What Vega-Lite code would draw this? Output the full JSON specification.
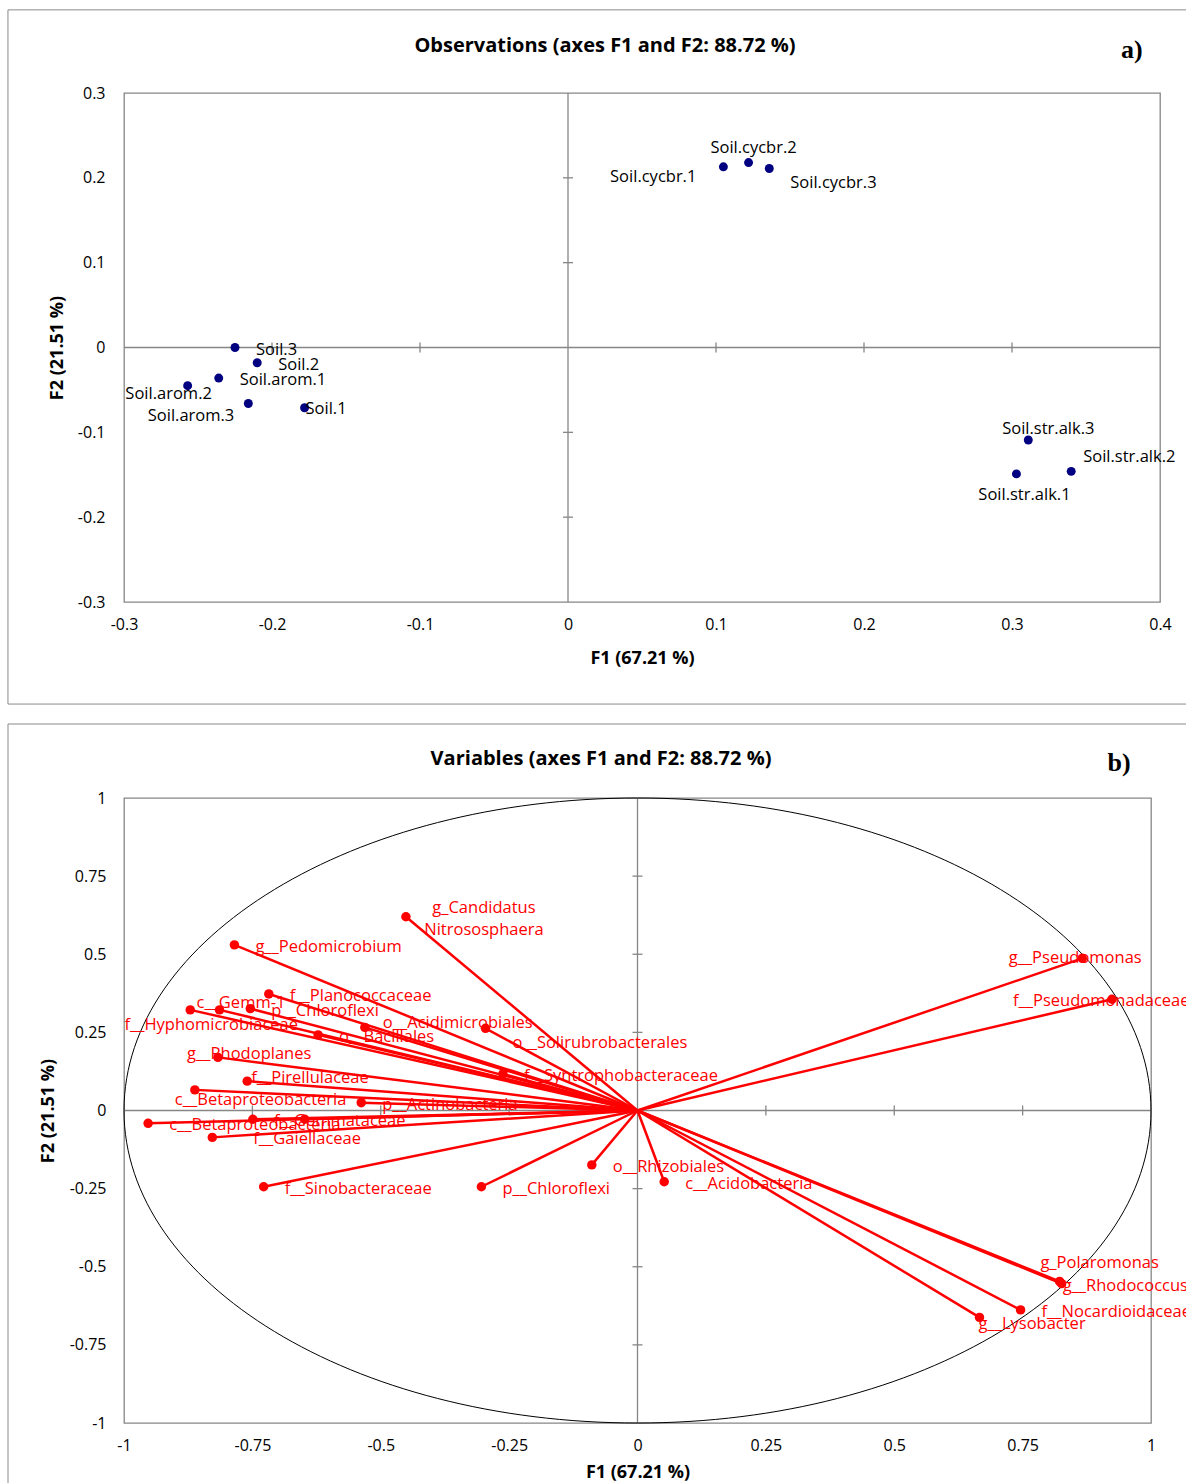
{
  "$schema": "https://vega.github.io/schema/vega-lite/v6.json",
  "padding": {"left": 6, "top": 8, "right": 0, "bottom": 0},
  "background": "white",
  "columns": 1,
  "align": "none",
  "spacing": 16,
  "config": {
    "view": {"stroke": "#868686", "strokeWidth": 1.3},
    "font": "Open Sans",
    "axis": {
      "domain": false, "ticks": false, "grid": false,
      "labelFont": "Open Sans", "labelFontSize": 16, "labelColor": "black",
      "titleFont": "Open Sans", "titleFontSize": 18, "titleFontWeight": "bold", "titleColor": "black",
      "labelPadding": 14, "labelFlush": false, "labelOverlap": false, "labelBound": false
    },
    "text": {"font": "Open Sans", "fontSize": 16.5, "baseline": "middle"}
  },
  "datasets": {
    "observations": [
      {"obs": "Soil.arom.1", "F1": -0.236, "F2": -0.036, "place": "E"},
      {"obs": "Soil.arom.2", "F1": -0.257, "F2": -0.045, "place": "CL"},
      {"obs": "Soil.arom.3", "F1": -0.216, "F2": -0.066, "place": "SW"},
      {"obs": "Soil.1", "F1": -0.178, "F2": -0.071, "place": "ON"},
      {"obs": "Soil.2", "F1": -0.210, "F2": -0.018, "place": "E"},
      {"obs": "Soil.3", "F1": -0.225, "F2": 0.000, "place": "E"},
      {"obs": "Soil.cycbr.1", "F1": 0.105, "F2": 0.213, "place": "WSW"},
      {"obs": "Soil.cycbr.2", "F1": 0.122, "F2": 0.218, "place": "N"},
      {"obs": "Soil.cycbr.3", "F1": 0.136, "F2": 0.211, "place": "ESE"},
      {"obs": "Soil.str.alk.1", "F1": 0.303, "F2": -0.149, "place": "S"},
      {"obs": "Soil.str.alk.2", "F1": 0.340, "F2": -0.146, "place": "ENE"},
      {"obs": "Soil.str.alk.3", "F1": 0.311, "F2": -0.109, "place": "NE"}
    ],
    "variables": [
      {"var": "g_Candidatus\nNitrososphaera", "F1": -0.451, "F2": 0.620, "place": "C2"},
      {"var": "g__Pedomicrobium", "F1": -0.785, "F2": 0.530, "place": "E"},
      {"var": "f__Planococcaceae", "F1": -0.718, "F2": 0.373, "place": "E"},
      {"var": "c__Gemm-1", "F1": -0.814, "F2": 0.322, "place": "NW"},
      {"var": "p__Chloroflexi", "F1": -0.754, "F2": 0.326, "place": "E"},
      {"var": "f__Hyphomicrobiaceae", "F1": -0.871, "F2": 0.322, "place": "S"},
      {"var": "o__Acidimicrobiales", "F1": -0.531, "F2": 0.266, "place": "ENE"},
      {"var": "o__Solirubrobacterales", "F1": -0.296, "F2": 0.263, "place": "ESE"},
      {"var": "o__Bacillales", "F1": -0.622, "F2": 0.242, "place": "E"},
      {"var": "f__Syntrophobacteraceae", "F1": -0.262, "F2": 0.117, "place": "E"},
      {"var": "p__Actinobacteria", "F1": -0.538, "F2": 0.025, "place": "E"},
      {"var": "g__Rhodoplanes", "F1": -0.817, "F2": 0.170, "place": "NW2"},
      {"var": "f__Pirellulaceae", "F1": -0.760, "F2": 0.094, "place": "ON_N"},
      {"var": "c__Betaproteobacteria", "F1": -0.862, "F2": 0.066, "place": "SW"},
      {"var": "c__Betaproteobacteria", "F1": -0.953, "F2": -0.041, "place": "E"},
      {"var": "f__Gemmataceae", "F1": -0.749, "F2": -0.028, "place": "E"},
      {"var": null, "F1": -0.648, "F2": -0.028, "place": "none"},
      {"var": "f__Gaiellaceae", "F1": -0.828, "F2": -0.086, "place": "EE"},
      {"var": "f__Sinobacteraceae", "F1": -0.728, "F2": -0.244, "place": "E"},
      {"var": "p__Chloroflexi", "F1": -0.304, "F2": -0.244, "place": "E"},
      {"var": "o__Rhizobiales", "F1": -0.089, "F2": -0.174, "place": "E"},
      {"var": "c__Acidobacteria", "F1": 0.052, "F2": -0.228, "place": "E"},
      {"var": "g__Pseudomonas", "F1": 0.866, "F2": 0.487, "place": "C"},
      {"var": "f__Pseudomonadaceae", "F1": 0.924, "F2": 0.356, "place": "W"},
      {"var": "g_Polaromonas", "F1": 0.822, "F2": -0.547, "place": "N"},
      {"var": "g__Rhodococcus", "F1": 0.826, "F2": -0.554, "place": "ON"},
      {"var": "f__Nocardioidaceae", "F1": 0.746, "F2": -0.638, "place": "E"},
      {"var": "g__Lysobacter", "F1": 0.666, "F2": -0.662, "place": "ON_S"}
    ]
  },
  "concat": [
    {
      "width": 1036,
      "height": 509,
      "data": {"name": "observations"},
      "layer": [
        {"data": {"values": [{"frame": "chart area"}]},
         "mark": {"type": "rect", "fill": null, "stroke": "#8a8a8a", "strokeWidth": 1},
         "encoding": {"x": {"datum": -0.3784, "type": "quantitative"}, "x2": {"datum": 0.4486},
                      "y": {"datum": 0.398, "type": "quantitative"}, "y2": {"datum": -0.4203}}},
        {"data": {"values": [{"at": 0}]}, "mark": {"type": "rule", "color": "#868686", "strokeWidth": 1.3},
         "encoding": {"x": {"field": "at", "type": "quantitative"}}},
        {"data": {"values": [{"at": 0}]}, "mark": {"type": "rule", "color": "#868686", "strokeWidth": 1.3},
         "encoding": {"y": {"field": "at", "type": "quantitative"}}},
        {"data": {"values": [{"v": -0.2}, {"v": -0.1}, {"v": 0.1}, {"v": 0.2}, {"v": 0.3}]},
         "mark": {"type": "tick", "orient": "vertical", "size": 10, "thickness": 1.3, "color": "#868686", "opacity": 1},
         "encoding": {"x": {"field": "v", "type": "quantitative"}, "y": {"datum": 0, "type": "quantitative"}}},
        {"data": {"values": [{"v": -0.2}, {"v": -0.1}, {"v": 0.1}, {"v": 0.2}]},
         "mark": {"type": "tick", "orient": "horizontal", "size": 10, "thickness": 1.3, "color": "#868686", "opacity": 1},
         "encoding": {"y": {"field": "v", "type": "quantitative"}, "x": {"datum": 0, "type": "quantitative"}}},
        {"mark": {"type": "circle", "size": 80, "color": "#000080", "opacity": 1},
         "encoding": {
           "x": {"field": "F1", "type": "quantitative",
                 "scale": {"domain": [-0.3, 0.4], "nice": false, "zero": false},
                 "axis": {"title": "F1 (67.21 %)", "values": [-0.3, -0.2, -0.1, 0, 0.1, 0.2, 0.3, 0.4], "format": ".1~f",
                          "labelExpr": "replace(datum.label, '−', '-')", "titlePadding": 17}},
           "y": {"field": "F2", "type": "quantitative",
                 "scale": {"domain": [-0.3, 0.3], "nice": false, "zero": false},
                 "axis": {"title": "F2 (21.51 %)", "values": [-0.3, -0.2, -0.1, 0, 0.1, 0.2, 0.3], "format": ".1~f",
                          "labelExpr": "replace(datum.label, '−', '-')", "labelPadding": 19, "titlePadding": 11}}
         }},
        {"transform": [{"filter": "datum.place == 'E'"}], "mark": {"type": "text", "align": "left", "dx": 21, "dy": 2},
         "encoding": {"x": {"field": "F1", "type": "quantitative"}, "y": {"field": "F2", "type": "quantitative"}, "text": {"field": "obs"}}},
        {"transform": [{"filter": "datum.place == 'ON'"}], "mark": {"type": "text", "align": "left", "dx": 1, "dy": 1},
         "encoding": {"x": {"field": "F1", "type": "quantitative"}, "y": {"field": "F2", "type": "quantitative"}, "text": {"field": "obs"}}},
        {"transform": [{"filter": "datum.place == 'CL'"}], "mark": {"type": "text", "align": "center", "dx": -19, "dy": 8},
         "encoding": {"x": {"field": "F1", "type": "quantitative"}, "y": {"field": "F2", "type": "quantitative"}, "text": {"field": "obs"}}},
        {"transform": [{"filter": "datum.place == 'SW'"}], "mark": {"type": "text", "align": "right", "dx": -14, "dy": 13},
         "encoding": {"x": {"field": "F1", "type": "quantitative"}, "y": {"field": "F2", "type": "quantitative"}, "text": {"field": "obs"}}},
        {"transform": [{"filter": "datum.place == 'WSW'"}], "mark": {"type": "text", "align": "right", "dx": -27, "dy": 10},
         "encoding": {"x": {"field": "F1", "type": "quantitative"}, "y": {"field": "F2", "type": "quantitative"}, "text": {"field": "obs"}}},
        {"transform": [{"filter": "datum.place == 'N'"}], "mark": {"type": "text", "align": "center", "dx": 5, "dy": -15},
         "encoding": {"x": {"field": "F1", "type": "quantitative"}, "y": {"field": "F2", "type": "quantitative"}, "text": {"field": "obs"}}},
        {"transform": [{"filter": "datum.place == 'ESE'"}], "mark": {"type": "text", "align": "left", "dx": 21, "dy": 14},
         "encoding": {"x": {"field": "F1", "type": "quantitative"}, "y": {"field": "F2", "type": "quantitative"}, "text": {"field": "obs"}}},
        {"transform": [{"filter": "datum.place == 'S'"}], "mark": {"type": "text", "align": "center", "dx": 8, "dy": 21},
         "encoding": {"x": {"field": "F1", "type": "quantitative"}, "y": {"field": "F2", "type": "quantitative"}, "text": {"field": "obs"}}},
        {"transform": [{"filter": "datum.place == 'ENE'"}], "mark": {"type": "text", "align": "left", "dx": 12, "dy": -14},
         "encoding": {"x": {"field": "F1", "type": "quantitative"}, "y": {"field": "F2", "type": "quantitative"}, "text": {"field": "obs"}}},
        {"transform": [{"filter": "datum.place == 'NE'"}], "mark": {"type": "text", "align": "center", "dx": 20, "dy": -11},
         "encoding": {"x": {"field": "F1", "type": "quantitative"}, "y": {"field": "F2", "type": "quantitative"}, "text": {"field": "obs"}}},
        {"data": {"values": [{"tag": "Observations (axes F1 and F2: 88.72 %)"}]},
         "mark": {"type": "text", "fontWeight": "bold", "fontSize": 20, "align": "center"},
         "encoding": {"x": {"datum": 0.025, "type": "quantitative"}, "y": {"datum": 0.3555, "type": "quantitative"}, "text": {"field": "tag"}}},
        {"data": {"values": [{"tag": "a)"}]},
         "mark": {"type": "text", "font": "Liberation Serif", "fontWeight": "bold", "fontSize": 26, "align": "center"},
         "encoding": {"x": {"datum": 0.381, "type": "quantitative"}, "y": {"datum": 0.351, "type": "quantitative"}, "text": {"field": "tag"}}}
      ]
    },
    {
      "width": 1027,
      "height": 625,
      "data": {"name": "variables"},
      "layer": [
        {"data": {"values": [{"frame": "chart area"}]},
         "mark": {"type": "rect", "fill": null, "stroke": "#8a8a8a", "strokeWidth": 1},
         "encoding": {"x": {"datum": -1.2259, "type": "quantitative"}, "x2": {"datum": 1.15},
                      "y": {"datum": 1.2368, "type": "quantitative"}, "y2": {"datum": -1.25}}},
        {"data": {"values": [{"at": 0}]}, "mark": {"type": "rule", "color": "#868686", "strokeWidth": 1.3},
         "encoding": {"x": {"field": "at", "type": "quantitative"}}},
        {"data": {"values": [{"at": 0}]}, "mark": {"type": "rule", "color": "#868686", "strokeWidth": 1.3},
         "encoding": {"y": {"field": "at", "type": "quantitative"}}},
        {"data": {"values": [{"v": -0.75}, {"v": -0.5}, {"v": -0.25}, {"v": 0.25}, {"v": 0.5}, {"v": 0.75}]},
         "mark": {"type": "tick", "orient": "vertical", "size": 10, "thickness": 1.3, "color": "#868686", "opacity": 1},
         "encoding": {"x": {"field": "v", "type": "quantitative"}, "y": {"datum": 0, "type": "quantitative"}}},
        {"data": {"values": [{"v": -0.75}, {"v": -0.5}, {"v": -0.25}, {"v": 0.25}, {"v": 0.5}, {"v": 0.75}]},
         "mark": {"type": "tick", "orient": "horizontal", "size": 10, "thickness": 1.3, "color": "#868686", "opacity": 1},
         "encoding": {"y": {"field": "v", "type": "quantitative"}, "x": {"datum": 0, "type": "quantitative"}}},
        {"data": {"values": [{"radius": 1}]},
         "mark": {"type": "point", "shape": "M -1 0 A 1 0.6086 0 1 1 1 0 A 1 0.6086 0 1 1 -1 0 Z", "size": 1054729,
                  "filled": false, "stroke": "black", "strokeWidth": 1, "opacity": 1},
         "encoding": {"x": {"datum": 0, "type": "quantitative"}, "y": {"datum": 0, "type": "quantitative"}}},
        {"mark": {"type": "rule", "color": "#ff0000", "strokeWidth": 2.5},
         "encoding": {"x": {"field": "F1", "type": "quantitative"}, "y": {"field": "F2", "type": "quantitative"},
                      "x2": {"datum": 0}, "y2": {"datum": 0}}},
        {"mark": {"type": "circle", "size": 90, "color": "#ff0000", "opacity": 1},
         "encoding": {
           "x": {"field": "F1", "type": "quantitative",
                 "scale": {"domain": [-1, 1], "nice": false, "zero": false},
                 "axis": {"title": "F1 (67.21 %)", "values": [-1, -0.75, -0.5, -0.25, 0, 0.25, 0.5, 0.75, 1], "format": ".2~f",
                          "labelExpr": "replace(datum.label, '−', '-')", "titlePadding": 10}},
           "y": {"field": "F2", "type": "quantitative",
                 "scale": {"domain": [-1, 1], "nice": false, "zero": false},
                 "axis": {"title": "F2 (21.51 %)", "values": [-1, -0.75, -0.5, -0.25, 0, 0.25, 0.5, 0.75, 1], "format": ".2~f",
                          "labelExpr": "replace(datum.label, '−', '-')", "labelPadding": 18, "titlePadding": 12}}
         }},
        {"transform": [{"filter": "datum.place == 'E'"}], "mark": {"type": "text", "align": "left", "dx": 21, "dy": 2, "color": "#ff0000"},
         "encoding": {"x": {"field": "F1", "type": "quantitative"}, "y": {"field": "F2", "type": "quantitative"}, "text": {"field": "var"}}},
        {"transform": [{"filter": "datum.place == 'ENE'"}], "mark": {"type": "text", "align": "left", "dx": 18, "dy": -4, "color": "#ff0000"},
         "encoding": {"x": {"field": "F1", "type": "quantitative"}, "y": {"field": "F2", "type": "quantitative"}, "text": {"field": "var"}}},
        {"transform": [{"filter": "datum.place == 'ESE'"}], "mark": {"type": "text", "align": "left", "dx": 27, "dy": 15, "color": "#ff0000"},
         "encoding": {"x": {"field": "F1", "type": "quantitative"}, "y": {"field": "F2", "type": "quantitative"}, "text": {"field": "var"}}},
        {"transform": [{"filter": "datum.place == 'EE'"}], "mark": {"type": "text", "align": "left", "dx": 41, "dy": 2, "color": "#ff0000"},
         "encoding": {"x": {"field": "F1", "type": "quantitative"}, "y": {"field": "F2", "type": "quantitative"}, "text": {"field": "var"}}},
        {"transform": [{"filter": "datum.place == 'ON'"}], "mark": {"type": "text", "align": "left", "dx": 1, "dy": 2, "color": "#ff0000"},
         "encoding": {"x": {"field": "F1", "type": "quantitative"}, "y": {"field": "F2", "type": "quantitative"}, "text": {"field": "var"}}},
        {"transform": [{"filter": "datum.place == 'ON_N'"}], "mark": {"type": "text", "align": "left", "dx": 4, "dy": -3, "color": "#ff0000"},
         "encoding": {"x": {"field": "F1", "type": "quantitative"}, "y": {"field": "F2", "type": "quantitative"}, "text": {"field": "var"}}},
        {"transform": [{"filter": "datum.place == 'ON_S'"}], "mark": {"type": "text", "align": "left", "dx": -1, "dy": 7, "color": "#ff0000"},
         "encoding": {"x": {"field": "F1", "type": "quantitative"}, "y": {"field": "F2", "type": "quantitative"}, "text": {"field": "var"}}},
        {"transform": [{"filter": "datum.place == 'NW'"}], "mark": {"type": "text", "align": "left", "dx": -23, "dy": -7, "color": "#ff0000"},
         "encoding": {"x": {"field": "F1", "type": "quantitative"}, "y": {"field": "F2", "type": "quantitative"}, "text": {"field": "var"}}},
        {"transform": [{"filter": "datum.place == 'NW2'"}], "mark": {"type": "text", "align": "left", "dx": -31, "dy": -3, "color": "#ff0000"},
         "encoding": {"x": {"field": "F1", "type": "quantitative"}, "y": {"field": "F2", "type": "quantitative"}, "text": {"field": "var"}}},
        {"transform": [{"filter": "datum.place == 'S'"}], "mark": {"type": "text", "align": "center", "dx": 21, "dy": 15, "color": "#ff0000"},
         "encoding": {"x": {"field": "F1", "type": "quantitative"}, "y": {"field": "F2", "type": "quantitative"}, "text": {"field": "var"}}},
        {"transform": [{"filter": "datum.place == 'SW'"}], "mark": {"type": "text", "align": "left", "dx": -20, "dy": 10, "color": "#ff0000"},
         "encoding": {"x": {"field": "F1", "type": "quantitative"}, "y": {"field": "F2", "type": "quantitative"}, "text": {"field": "var"}}},
        {"transform": [{"filter": "datum.place == 'C'"}], "mark": {"type": "text", "align": "center", "dx": -7, "dy": 0, "color": "#ff0000"},
         "encoding": {"x": {"field": "F1", "type": "quantitative"}, "y": {"field": "F2", "type": "quantitative"}, "text": {"field": "var"}}},
        {"transform": [{"filter": "datum.place == 'W'"}], "mark": {"type": "text", "align": "left", "dx": -99, "dy": 2, "color": "#ff0000"},
         "encoding": {"x": {"field": "F1", "type": "quantitative"}, "y": {"field": "F2", "type": "quantitative"}, "text": {"field": "var"}}},
        {"transform": [{"filter": "datum.place == 'N'"}], "mark": {"type": "text", "align": "center", "dx": 40, "dy": -18, "color": "#ff0000"},
         "encoding": {"x": {"field": "F1", "type": "quantitative"}, "y": {"field": "F2", "type": "quantitative"}, "text": {"field": "var"}}},
        {"transform": [{"filter": "datum.place == 'C2'"}], "mark": {"type": "text", "align": "center", "dx": 78, "dy": -9, "lineBreak": "\n", "lineHeight": 22, "color": "#ff0000"},
         "encoding": {"x": {"field": "F1", "type": "quantitative"}, "y": {"field": "F2", "type": "quantitative"}, "text": {"field": "var"}}},
        {"data": {"values": [{"tag": "Variables (axes F1 and F2: 88.72 %)"}]},
         "mark": {"type": "text", "fontWeight": "bold", "fontSize": 20, "align": "center"},
         "encoding": {"x": {"datum": -0.071, "type": "quantitative"}, "y": {"datum": 1.125, "type": "quantitative"}, "text": {"field": "tag"}}},
        {"data": {"values": [{"tag": "b)"}]},
         "mark": {"type": "text", "font": "Liberation Serif", "fontWeight": "bold", "fontSize": 26, "align": "center"},
         "encoding": {"x": {"datum": 0.938, "type": "quantitative"}, "y": {"datum": 1.112, "type": "quantitative"}, "text": {"field": "tag"}}}
      ]
    }
  ]
}
